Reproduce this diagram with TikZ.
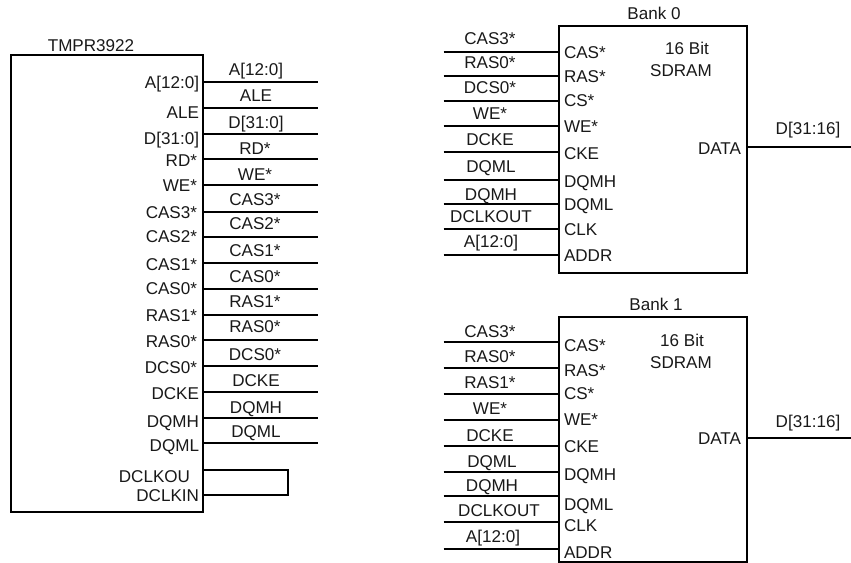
\documentclass[tikz,border=0pt]{standalone}
\usepackage{fontspec}
\setmainfont{Liberation Sans}
\tikzset{
  px/.style={x=0.75pt,y=-0.75pt},
  chip/.style={draw=black,line width=1.1pt,rectangle,inner sep=0pt,fill=white},
  wire/.style={draw=black,line width=1.25pt},
  lab/.style={inner sep=0pt,outer sep=0pt,font=\fontsize{12.8}{14}\selectfont,text=black!90},
  labR/.style={lab,anchor=base east},
  labL/.style={lab,anchor=base west},
  labC/.style={lab,anchor=base},
}
\begin{document}
\begin{tikzpicture}[px]
\useasboundingbox (0,0) rectangle (851,563);
% TMPR3922
\node[chip,minimum width=144pt,minimum height=342.75pt] (tmp) at (107,283.5) {};
\node[labC] (tmpname) at (91,52) {TMPR3922};
\foreach \i/\w/\wy/\cx/\wb/\iy/\ix in {
  1/A[12:0]/82/256/76/89/199, 2/ALE/108/256/102/119/199, 3/D[31:0]/134/256/129/145/199,
  4/RD*/159/255/155/167/197, 5/WE*/185/255/181/192/197, 6/CAS3*/212/255/206/219/197,
  7/CAS2*/237/255/230/243/197, 8/CAS1*/263/255/257/271/197, 9/CAS0*/289/255/283/295/197,
  10/RAS1*/315/255/308/322/197, 11/RAS0*/340/255/333/348/197, 12/DCS0*/366/255/361/374/197,
  13/DCKE/392/256/387/400/199, 14/DQMH/418/256/413/428/199, 15/DQML/443/256/438/451/199}{
  \coordinate (te\i) at (318,\wy);
  \draw[wire] (te\i -| tmp.east) -- (te\i);
  \node[labC] (tw\i) at (\cx,\wb) {\w};
  \node[labR] (ti\i) at (\ix,\iy) {\w};
}
\node[labR] (tclkout) at (190,482) {DCLKOU};
\node[labR] (tclkin) at (199,502) {DCLKIN};
\coordinate (la) at (288,470);
\coordinate (lb) at (288,495);
\draw[wire] (la -| tmp.east) -- (la) -- (lb) -- (lb -| tmp.east);
% Bank 0
\node[chip,minimum width=141pt,minimum height=185.25pt] (b0) at (653,149.5) {};
\node[labC] (b0name) at (654,20) {Bank 0};
\node[labC] (b0bit) at (687,55) {16 Bit};
\node[labC] (b0type) at (681,77) {SDRAM};
\node[labR] (b0data) at (741,155) {DATA};
\coordinate (b0out) at (851,147);
\draw[wire] (b0out -| b0.east) -- (b0out);
\node[labC] (b0d) at (808,135) {D[31:16]};
\foreach \i/\w/\wy/\wb/\cx/\inner/\iy in {
  1/CAS3*/52/45/490/CAS*/59, 2/RAS0*/76/69/490/RAS*/83, 3/DCS0*/101/94/490/CS*/107,
  4/WE*/126/120/490/WE*/133, 5/DCKE/152/146/490/CKE/160, 6/DQML/180/173/491/DQMH/188,
  7/DQMH/204/201/491/DQML/211, 8/DCLKOUT/229/223/491/CLK/236, 9/A[12:0]/255/248/491/ADDR/262}{
  \coordinate (a\i) at (443.5,\wy);
  \draw[wire] (a\i) -- (a\i -| b0.west);
  \node[labC] (aw\i) at (\cx,\wb) {\w};
  \node[labL] (ai\i) at (564,\iy) {\inner};
}
% Bank 1
\node[chip,minimum width=141pt,minimum height=183.75pt] (b1) at (653,439.5) {};
\node[labC] (b1name) at (656,311) {Bank 1};
\node[labC] (b1bit) at (682,347) {16 Bit};
\node[labC] (b1type) at (681,369) {SDRAM};
\node[labR] (b1data) at (741,445) {DATA};
\coordinate (b1out) at (851,438);
\draw[wire] (b1out -| b1.east) -- (b1out);
\node[labC] (b1d) at (808,427) {D[31:16]};
\foreach \i/\w/\wy/\wb/\cx/\inner/\iy in {
  1/CAS3*/342/338/490/CAS*/352, 2/RAS0*/368/363/490/RAS*/377, 3/RAS1*/394/389/490/CS*/400,
  4/WE*/420/415/490/WE*/426, 5/DCKE/446/441/490/CKE/452, 6/DQML/472/467/492/DQMH/480,
  7/DQMH/496/492/492/DQML/510, 8/DCLKOUT/522/517/499/CLK/532, 9/A[12:0]/549/542/493/ADDR/558}{
  \coordinate (c\i) at (443.5,\wy);
  \draw[wire] (c\i) -- (c\i -| b1.west);
  \node[labC] (cw\i) at (\cx,\wb) {\w};
  \node[labL] (ci\i) at (564,\iy) {\inner};
}
\end{tikzpicture}
\end{document}
